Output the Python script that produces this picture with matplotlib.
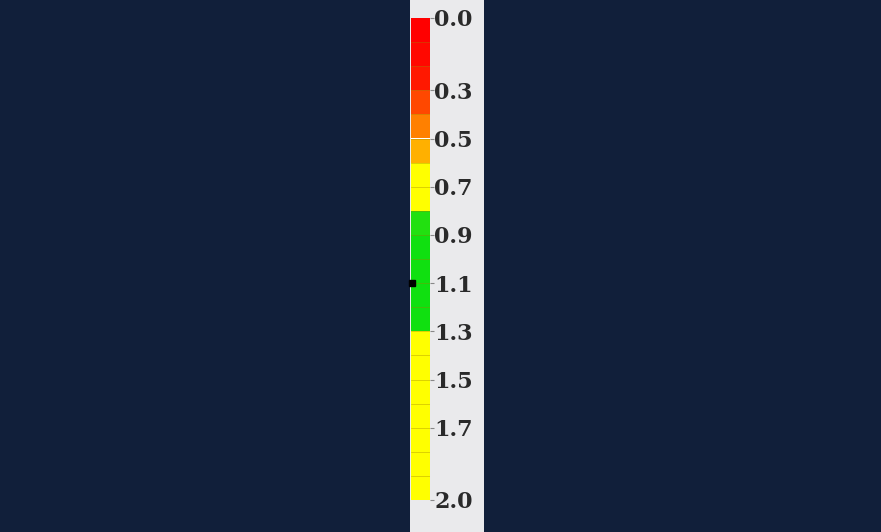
import numpy as np
import matplotlib
matplotlib.use('Agg')
import matplotlib.pyplot as plt

# 0.1-wide bands from 0.0 to 2.0
edges = np.round(np.arange(0, 2.01, 0.1), 1)
band_colors = ['#ff0000', '#ff0800', '#ff1800', '#ff4800', '#ff8000', '#ffb000',
               '#ffff00', '#ffff00', '#22e010', '#10e010', '#10e010', '#10e010',
               '#10e010', '#ffff00', '#ffff00', '#ffff00', '#ffff00', '#ffff00',
               '#ffff00', '#ffff00']
tick_vals = [0.0, 0.3, 0.5, 0.7, 0.9, 1.1, 1.3, 1.5, 1.7, 2.0]
marker_val = 1.1

W, H = 881, 532
fig = plt.figure(figsize=(W/100, H/100), dpi=100, facecolor='#111f3a')

strip = fig.add_axes([410/W, 0, 74/W, 1])
strip.set_facecolor('#eaeaec')
strip.set_xticks([]); strip.set_yticks([])
for s in strip.spines.values():
    s.set_visible(False)

ax = fig.add_axes([411/W, 1 - 500/H, 19/W, 482/H])
for lo, hi, c in zip(edges[:-1], edges[1:], band_colors):
    ax.axhspan(lo, hi, color=c, lw=0)
    ax.axhline(hi, color='#a08000', lw=0.5, alpha=0.5)
ax.set_ylim(2.0, 0.0)
ax.set_xlim(0, 1)
ax.set_xticks([])
ax.yaxis.tick_right()
ax.set_yticks(tick_vals)
ax.set_yticklabels([f'{v:.1f}' for v in tick_vals], family='DejaVu Serif',
                   fontsize=16, fontweight='bold', color='#2a2a2a')
ax.tick_params(axis='y', length=3, color='#888888', pad=0)
for s in ax.spines.values():
    s.set_visible(False)
ax.plot([0.05], [marker_val], 's', color='black', ms=4, clip_on=False)

fig.savefig('out.png', dpi=100, facecolor=fig.get_facecolor())
